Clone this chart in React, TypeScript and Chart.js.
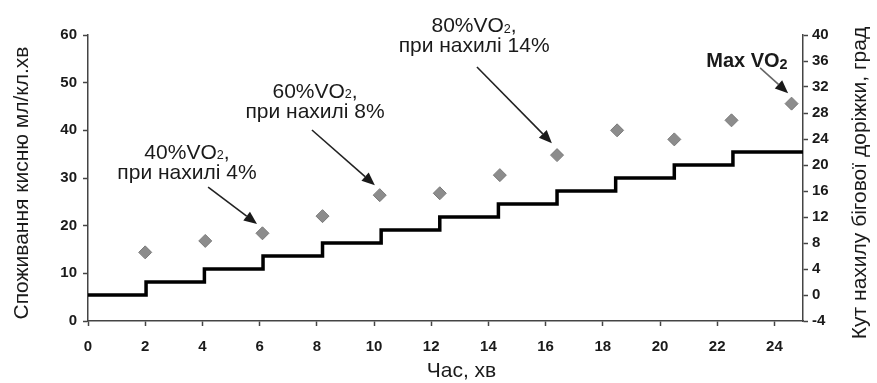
import { useEffect, useRef } from "react";
import { Chart, registerables } from "chart.js";

Chart.register(...registerables);

// ---- data ----
const stageStartTimes = [0, 2.03, 4.07, 6.12, 8.2, 10.25, 12.3, 14.35, 16.4, 18.45, 20.5, 22.55, 25];
const treadmillGrade = [0, 2, 4, 6, 8, 10, 12, 14, 16, 18, 20, 22, 22];
const vo2Times = [2.0, 4.1, 6.1, 8.2, 10.2, 12.3, 14.4, 16.4, 18.5, 20.5, 22.5, 24.6];
const vo2Values = [14.4, 16.8, 18.4, 22.0, 26.4, 26.8, 30.6, 34.8, 40.0, 38.1, 42.1, 45.6];

const xTitle = "Час, хв";
const yTitle = "Споживання кисню мл/кл.хв";
const y1Title = "Кут нахилу бігової доріжки, град";

const noteLines = [
  ["40%VO₂,", "при нахилі 4%"],
  ["60%VO₂,", "при нахилі 8%"],
  ["80%VO₂,", "при нахилі 14%"],
  ["Max VO₂"],
];
const noteBold = [false, false, false, true];
const noteX = [3.46, 7.94, 13.5, 23.04];
const noteY = [34.0, 46.8, 60.6, 53.3];
const arrowFrom = [[4.2, 28.1], [7.83, 40.07], [13.6, 53.3], [23.5, 53.1]];
const arrowTo = [[5.91, 20.35], [10.03, 28.5], [16.22, 37.3], [24.48, 47.8]];

const FONT = '"Liberation Sans", Arial, Helvetica, sans-serif';

function drawRich(ctx: CanvasRenderingContext2D, text: string, cx: number, baseline: number, size: number, bold: boolean) {
  const parts = text.split("₂");
  const w = bold ? "bold " : "";
  const subSize = bold ? size * 0.72 : size * 0.6;
  const subDrop = bold ? 2.5 : 0.5;
  const mainFont = `${w}${size}px ${FONT}`;
  const subFont = `${w}${subSize}px ${FONT}`;
  let total = 0;
  parts.forEach((p, i) => {
    ctx.font = mainFont;
    total += ctx.measureText(p).width;
    if (i < parts.length - 1) {
      ctx.font = subFont;
      total += ctx.measureText("2").width;
    }
  });
  let x = cx - total / 2;
  ctx.textAlign = "left";
  ctx.textBaseline = "alphabetic";
  parts.forEach((p, i) => {
    ctx.font = mainFont;
    ctx.fillText(p, x, baseline);
    x += ctx.measureText(p).width;
    if (i < parts.length - 1) {
      ctx.font = subFont;
      ctx.fillText("2", x, baseline + subDrop);
      x += ctx.measureText("2").width;
    }
  });
}

function drawArrow(ctx: CanvasRenderingContext2D, x1: number, y1: number, x2: number, y2: number, lineColor: string) {
  const ang = Math.atan2(y2 - y1, x2 - x1);
  const headLen = 13;
  const half = 5.5;
  const bx = x2 - Math.cos(ang) * headLen;
  const by = y2 - Math.sin(ang) * headLen;
  ctx.strokeStyle = lineColor;
  ctx.lineWidth = 1.6;
  ctx.beginPath();
  ctx.moveTo(x1, y1);
  ctx.lineTo(bx, by);
  ctx.stroke();
  ctx.fillStyle = "#1a1a1a";
  ctx.beginPath();
  ctx.moveTo(x2, y2);
  ctx.lineTo(bx + Math.sin(ang) * half, by - Math.cos(ang) * half);
  ctx.lineTo(bx - Math.sin(ang) * half, by + Math.cos(ang) * half);
  ctx.closePath();
  ctx.fill();
}

const overlayPlugin = {
  id: "overlay",
  afterDraw(chart: any) {
    const { ctx, chartArea, scales } = chart;
    const xs = scales.x;
    const ys = scales.y;
    ctx.save();
    ctx.fillStyle = "#1a1a1a";
    // x title
    ctx.font = `21px ${FONT}`;
    ctx.textAlign = "center";
    ctx.textBaseline = "alphabetic";
    const midX = (chartArea.left + chartArea.right) / 2;
    ctx.fillText(xTitle, midX + 16, chartArea.bottom + 56);
    const midY = (chartArea.top + chartArea.bottom) / 2 + 5;
    // left title
    ctx.save();
    ctx.translate(28, midY);
    ctx.rotate(-Math.PI / 2);
    ctx.fillText(yTitle, 0, 0);
    ctx.restore();
    // right title
    ctx.save();
    ctx.translate(chartArea.right + 63, midY);
    ctx.rotate(-Math.PI / 2);
    ctx.fillText(y1Title, 0, 0);
    ctx.restore();
    // annotations
    noteLines.forEach((lines, i) => {
      const cx = xs.getPixelForValue(noteX[i]);
      const by = ys.getPixelForValue(noteY[i]);
      lines.forEach((ln, j) => {
        ctx.fillStyle = "#1a1a1a";
        drawRich(ctx, ln, cx, by + j * 20, noteBold[i] ? 20 : 21, noteBold[i]);
      });
      const [fx, fy] = arrowFrom[i];
      const [tx, ty] = arrowTo[i];
      drawArrow(
        ctx,
        xs.getPixelForValue(fx),
        ys.getPixelForValue(fy),
        xs.getPixelForValue(tx),
        ys.getPixelForValue(ty),
        noteBold[i] ? "#666" : "#222"
      );
    });
    ctx.restore();
  },
};

export default function App() {
  const ref = useRef<HTMLCanvasElement | null>(null);
  useEffect(() => {
    if (!ref.current) return;
    const tickFont = { family: FONT, size: 15, weight: "bold" as const };
    const axisColor = "#444";
    const chart = new Chart(ref.current, {
      type: "line",
      data: {
        datasets: [
          {
            type: "line",
            label: "grade",
            data: stageStartTimes.map((t, i) => ({ x: t, y: treadmillGrade[i] })),
            yAxisID: "y1",
            stepped: "before",
            borderColor: "#000",
            borderWidth: 3.5,
            pointRadius: 0,
            fill: false,
            order: 2,
          },
          {
            type: "scatter",
            label: "VO2",
            data: vo2Times.map((t, i) => ({ x: t, y: vo2Values[i] })),
            yAxisID: "y",
            pointStyle: "rectRot",
            pointRadius: 6.5,
            backgroundColor: "#8c8c8c",
            borderColor: "#7a7a7a",
            borderWidth: 1,
            showLine: false,
            order: 1,
          },
        ] as any,
      },
      options: {
        responsive: false,
        animation: false,
        layout: { padding: { top: 35, left: 0, right: 0, bottom: 0 } },
        plugins: { legend: { display: false }, tooltip: { enabled: false } },
        scales: {
          x: {
            type: "linear",
            min: 0,
            max: 25,
            ticks: { stepSize: 2, includeBounds: false, font: tickFont, color: "#1a1a1a", padding: 12, maxRotation: 0 },
            grid: { drawOnChartArea: false, drawTicks: true, tickLength: 5, tickColor: axisColor, tickWidth: 1.5 },
            border: { display: true, color: axisColor, width: 1.5 },
            afterFit: (s: any) => { s.height = 62; },
          },
          y: {
            type: "linear",
            position: "left",
            min: 0,
            max: 60,
            ticks: { stepSize: 10, font: tickFont, color: "#1a1a1a", padding: 6 },
            grid: { drawOnChartArea: false, drawTicks: true, tickLength: 5, tickColor: axisColor, tickWidth: 1.5 },
            border: { display: true, color: axisColor, width: 1.5 },
            afterFit: (s: any) => { s.width = 88; },
          },
          y1: {
            type: "linear",
            position: "right",
            min: -4,
            max: 40,
            ticks: { stepSize: 4, font: tickFont, color: "#1a1a1a", padding: 4 },
            grid: { drawOnChartArea: false, drawTicks: true, tickLength: 5, tickColor: axisColor, tickWidth: 1.5 },
            border: { display: true, color: axisColor, width: 1.5 },
            afterFit: (s: any) => { s.width = 74; },
          },
        },
      } as any,
      plugins: [overlayPlugin],
    });
    return () => chart.destroy();
  }, []);
  return (
    <div style={{ position: "absolute", left: 0, top: 0, width: 877, height: 383, background: "#fff" }}>
      <canvas ref={ref} width={877} height={383} style={{ display: "block" }} />
    </div>
  );
}
